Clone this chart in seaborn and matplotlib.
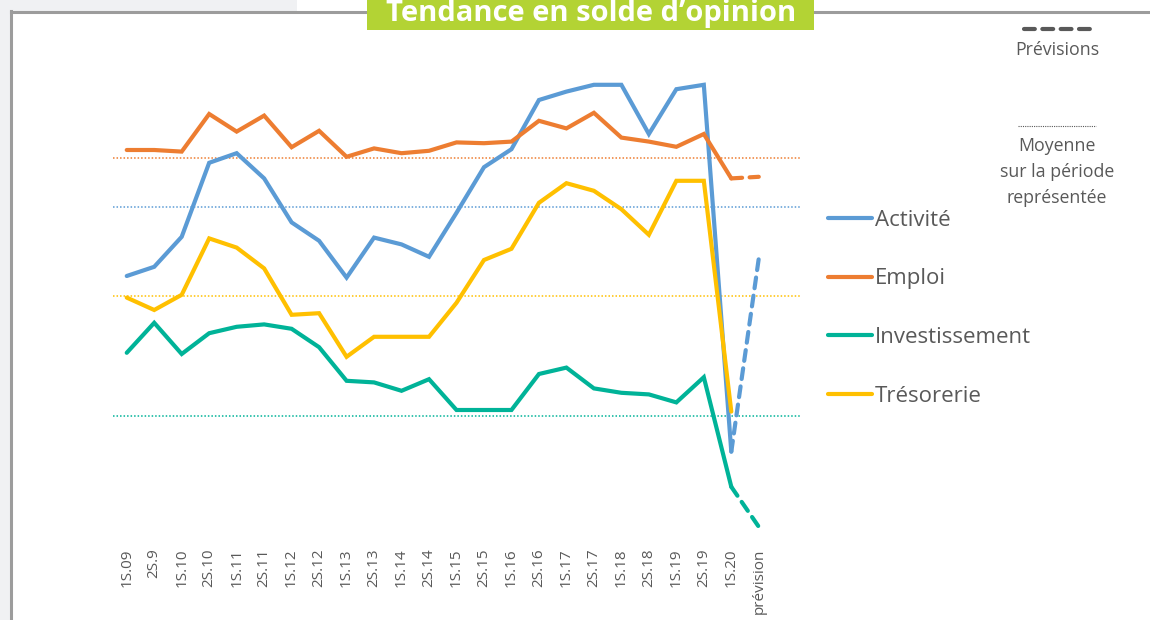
import numpy as np
import pandas as pd
import seaborn as sns
import matplotlib
matplotlib.use("Agg")
import matplotlib.pyplot as plt
from matplotlib.lines import Line2D
from matplotlib.patches import Rectangle

# ---------------- data (solde d'opinion) ----------------
periods = ["1S.09", "2S.9", "1S.10", "2S.10", "1S.11", "2S.11", "1S.12", "2S.12",
           "1S.13", "2S.13", "1S.14", "2S.14", "1S.15", "2S.15", "1S.16", "2S.16",
           "1S.17", "2S.17", "1S.18", "2S.18", "1S.19", "2S.19", "1S.20"]
forecast_label = "prévision"

activite = [35.0, 37.3, 44.8, 63.3, 65.7, 59.4, 48.4, 43.8, 34.6, 44.6, 42.9, 39.8,
            50.8, 62.2, 66.7, 79.0, 81.1, 82.8, 82.8, 70.5, 81.7, 82.8, -8.9]
emploi = [66.5, 66.5, 66.1, 75.5, 71.1, 75.1, 67.2, 71.3, 64.8, 66.9, 65.7, 66.3,
          68.4, 68.2, 68.6, 73.8, 71.9, 75.8, 69.6, 68.6, 67.3, 70.5, 59.4]
investissement = [15.8, 23.3, 15.5, 20.7, 22.3, 22.9, 21.8, 17.2, 8.8, 8.4, 6.3, 9.2,
                  1.5, 1.5, 1.5, 10.5, 12.1, 6.9, 5.8, 5.4, 3.4, 9.7, -17.7]
tresorerie = [29.6, 26.5, 30.3, 44.4, 42.1, 36.9, 25.3, 25.7, 14.8, 19.8, 19.8, 19.8,
              28.3, 39.0, 41.8, 53.3, 58.2, 56.3, 51.7, 45.3, 58.8, 58.8, 1.1]

prevision_activite = 39.4
prevision_emploi = 59.8
prevision_investissement = -27.7

moyenne_activite = 52.3
moyenne_emploi = 64.5
moyenne_investissement = 0.0
moyenne_tresorerie = 30.0

series_names = ["Activité", "Emploi", "Investissement", "Trésorerie"]
colors = {"Activité": "#5b9bd5", "Emploi": "#ed7d31",
          "Investissement": "#00b398", "Trésorerie": "#ffc000"}

# ---------------- build tables ----------------
xpos = np.arange(len(periods))
df = pd.concat([
    pd.DataFrame({"x": xpos, "valeur": vals, "serie": name})
    for name, vals in zip(series_names, [activite, emploi, investissement, tresorerie])
], ignore_index=True)

last = len(periods) - 1
fc = pd.concat([
    pd.DataFrame({"x": [last, last + 1], "valeur": [activite[-1], prevision_activite], "serie": "Activité"}),
    pd.DataFrame({"x": [last, last + 1], "valeur": [emploi[-1], prevision_emploi], "serie": "Emploi"}),
    pd.DataFrame({"x": [last, last + 1], "valeur": [investissement[-1], prevision_investissement], "serie": "Investissement"}),
], ignore_index=True)

means = {"Activité": moyenne_activite, "Emploi": moyenne_emploi,
         "Investissement": moyenne_investissement, "Trésorerie": moyenne_tresorerie}

# ---------------- figure ----------------
sns.set_theme(style="white")
plt.rcParams["font.family"] = ["Open Sans", "DejaVu Sans"]
W, H = 1150, 620
fig = plt.figure(figsize=(W / 100, H / 100), dpi=100)
fig.patch.set_facecolor("white")

# frame decorations (page background strips and grey border)
fig.add_artist(Rectangle((0, 0), 9.5 / W, 1, transform=fig.transFigure,
                         facecolor="#f0f1f3", edgecolor="none", zorder=0))
fig.add_artist(Rectangle((0, 1 - 10.5 / H), 297 / W, 10.5 / H, transform=fig.transFigure,
                         facecolor="#f0f1f3", edgecolor="none", zorder=0))
fig.add_artist(Line2D([10.5 / W, 10.5 / W], [0, 1 - 11 / H], transform=fig.transFigure,
                      color="#9c9c9c", lw=2.2, solid_capstyle="projecting"))
fig.add_artist(Line2D([10.5 / W, 1], [1 - 11.5 / H, 1 - 11.5 / H], transform=fig.transFigure,
                      color="#9c9c9c", lw=2.2, solid_capstyle="projecting"))

# green title box
fig.add_artist(Rectangle((367 / W, 1 - 29.5 / H), (814 - 367) / W, 29.5 / H,
                         transform=fig.transFigure, facecolor="#b3d334",
                         edgecolor="none", zorder=3))
fig.text(591 / W, 1 - 13 / H, "Tendance en solde d’opinion", color="white",
         fontsize=21, fontweight="bold", ha="center", va="center", zorder=4)

ax = fig.add_axes([113 / W, 1 - 535 / H, 687 / W, 475 / H])
ax.set_facecolor("none")

sns.lineplot(data=df, x="x", y="valeur", hue="serie", hue_order=series_names,
             palette=colors, linewidth=3.0, sort=False, legend=False, ax=ax,
             solid_capstyle="round", solid_joinstyle="miter")
for name, sub in fc.groupby("serie"):
    sns.lineplot(data=sub, x="x", y="valeur", color=colors[name], linewidth=3.0,
                 linestyle=(0, (2.6, 1.8)), dash_capstyle="round", sort=False,
                 legend=False, ax=ax)

for name in series_names:
    ax.axhline(means[name], color=colors[name], lw=1.1, linestyle=(0, (1, 1.3)), zorder=1)

ax.set_xlim(-0.5, len(periods) + 1.5)
ax.set_ylim(-29.75, 89)
ax.set_xticks(list(xpos) + [last + 1])
ax.set_xticklabels(periods + [forecast_label], rotation=90, fontsize=11, color="#595959")
ax.tick_params(axis="x", length=0, pad=9.5)
ax.set_yticks([])
ax.set_xlabel("")
ax.set_ylabel("")
for s in ax.spines.values():
    s.set_visible(False)

# series legend
handles = [Line2D([], [], color=colors[n], lw=3.0, solid_capstyle="round") for n in series_names]
leg = fig.legend(handles, series_names, loc="upper left",
                 bbox_to_anchor=(828 / W, 1 - 209.5 / H), frameon=False,
                 fontsize=16, handlelength=2.0, handletextpad=0.12,
                 labelspacing=1.70, borderpad=0, borderaxespad=0)
for t in leg.get_texts():
    t.set_color("#595959")

# top-right key: forecasts and period mean
fig.add_artist(Line2D([1024 / W, 1092 / W], [1 - 29 / H, 1 - 29 / H], transform=fig.transFigure,
                      color="#595959", lw=3.0, linestyle=(0, (2.6, 1.8)), dash_capstyle="round"))
fig.text(1057 / W, 1 - 50 / H, "Prévisions", color="#595959", fontsize=12.8, ha="center", va="center")
fig.add_artist(Line2D([1018 / W, 1096 / W], [1 - 126 / H, 1 - 126 / H], transform=fig.transFigure,
                      color="#595959", lw=0.8, linestyle=(0, (1, 1))))
fig.text(1057 / W, 1 - 172 / H, "Moyenne\nsur la période\nreprésentée", color="#595959",
         fontsize=12.8, ha="center", va="center", linespacing=1.55)

fig.savefig("out.png", dpi=100)
